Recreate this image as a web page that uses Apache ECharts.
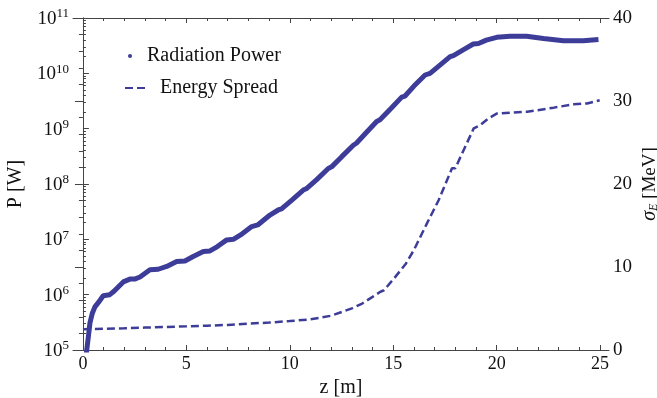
<!DOCTYPE html>
<html>
<head>
<meta charset="utf-8">
<script src="https://cdn.jsdelivr.net/npm/echarts@6/dist/echarts.min.js"></script>
<style>
html, body { margin: 0; padding: 0; background: #fff; }
#chart { width: 657px; height: 398px; }
</style>
</head>
<body>
<div id="chart"></div>
<script>
// radiation power P [W] along z [m]
const powerZ = [0.15, 0.25, 0.34, 0.45, 0.58, 0.75, 0.98, 1.3, 1.5, 1.95, 2.27, 2.5, 2.76, 3.24, 3.64, 4.05, 4.53, 4.93, 5.33, 5.82, 6.14, 6.5, 6.95, 7.27, 7.7, 8.16, 8.45, 9.04, 9.44, 9.6, 10.1, 10.65, 10.82, 11.3, 11.86, 12.02, 12.5, 13.07, 13.23, 13.7, 14.2, 14.36, 14.9, 15.41, 15.57, 16.0, 16.54, 16.78, 17.2, 17.75, 17.91, 18.4, 18.87, 19.12, 19.5, 20.0, 20.65, 21.45, 22.26, 23.23, 24.19, 24.92];
const powerW = [7.9e4, 1.58e5, 3.09e5, 4.57e5, 6.03e5, 7.24e5, 9.55e5, 1.0e6, 1.15e6, 1.70e6, 1.91e6, 1.91e6, 2.09e6, 2.82e6, 2.88e6, 3.24e6, 3.98e6, 4.07e6, 4.90e6, 6.03e6, 6.17e6, 7.41e6, 9.77e6, 1.0e7, 1.26e7, 1.70e7, 1.82e7, 2.75e7, 3.39e7, 3.55e7, 5.13e7, 7.76e7, 8.32e7, 1.20e8, 1.91e8, 2.04e8, 3.09e8, 5.01e8, 5.50e8, 8.51e8, 1.35e9, 1.45e9, 2.34e9, 3.72e9, 3.89e9, 5.89e9, 9.33e9, 1.0e10, 1.35e10, 2.0e10, 2.09e10, 2.69e10, 3.39e10, 3.47e10, 3.98e10, 4.47e10, 4.68e10, 4.68e10, 4.27e10, 3.89e10, 3.89e10, 4.07e10];

// energy spread sigma_E [MeV] along z [m]
const spreadZ = [0, 1, 2, 3, 4, 5, 6, 7, 8, 9, 10, 11, 12, 13, 13.5, 14.0, 14.38, 14.55, 15.0, 15.6, 16.0, 16.63, 17.2, 17.84, 18.0, 18.5, 18.89, 19.21, 19.6, 20.02, 20.66, 21.47, 22.76, 23.73, 24.37, 24.98];
const spreadMeV = [2.5, 2.55, 2.62, 2.7, 2.78, 2.85, 2.93, 3.02, 3.18, 3.3, 3.49, 3.69, 4.13, 5.02, 5.6, 6.4, 7.02, 7.2, 8.5, 10.36, 12.05, 15.26, 18.07, 21.89, 21.9, 24.6, 26.7, 27.1, 27.9, 28.5, 28.6, 28.7, 29.2, 29.6, 29.7, 30.1];

const zMajor = [0, 5, 10, 15, 20, 25];
const zMinor = [1, 2, 3, 4, 6, 7, 8, 9, 11, 12, 13, 14, 16, 17, 18, 19, 21, 22, 23, 24];
const pMajor = [1e5, 1e6, 1e7, 1e8, 1e9, 1e10, 1e11];

const pMinor = [];
for (let d = 5; d < 11; d++) {
    for (let m = 2; m <= 9; m++) pMinor.push(m * Math.pow(10, d));
}

const serif = '"Liberation Serif", "DejaVu Serif", serif';
const col = '#3d3d99';
const axisCol = '#444';

const chart = echarts.init(document.getElementById('chart'));

// hidden-label helper axes only carry extra ticks
const xBase = { type: 'value', min: -0.48, max: 25.43, splitLine: { show: false } };

chart.setOption({
    animation: false,
    grid: { left: 73, right: 48, top: 18, bottom: 48, outerBoundsMode: 'none', containLabel: false },
    legend: [{
        data: [{ name: 'Radiation Power', icon: 'circle' }],
        left: 128, top: 46, padding: 0,
        itemWidth: 4, itemHeight: 4,
        selectedMode: false,
        textStyle: { fontFamily: serif, fontSize: 20, color: '#111', padding: [0, 0, 0, 10] }
    }, {
        data: [{ name: 'Energy Spread', itemStyle: { opacity: 0 } }],
        left: 124, top: 78, padding: 0,
        itemWidth: 24, itemHeight: 10,
        selectedMode: false,
        textStyle: { fontFamily: serif, fontSize: 20, color: '#111', padding: [0, 0, 0, 6] }
    }],
    xAxis: [
        Object.assign({}, xBase, {
            position: 'bottom',
            name: 'z [m]', nameLocation: 'middle', nameGap: 23,
            nameTextStyle: { fontFamily: serif, fontSize: 20, color: '#111' },
            axisLine: { lineStyle: { color: axisCol, width: 1 } },
            axisTick: { inside: true, length: 5, customValues: zMajor, lineStyle: { color: axisCol } },
            axisLabel: { customValues: zMajor, fontFamily: serif, fontSize: 18, color: '#111', margin: 5 }
        }),
        Object.assign({}, xBase, {
            position: 'bottom',
            axisLine: { show: false },
            axisTick: { inside: true, length: 3, customValues: zMinor, lineStyle: { color: axisCol } },
            axisLabel: { show: false }
        }),
        Object.assign({}, xBase, {
            position: 'top',
            axisLine: { lineStyle: { color: axisCol, width: 1 } },
            axisTick: { inside: true, length: 5, customValues: zMajor, lineStyle: { color: axisCol } },
            axisLabel: { show: false }
        }),
        Object.assign({}, xBase, {
            position: 'top',
            axisLine: { show: false },
            axisTick: { inside: true, length: 3, customValues: zMinor, lineStyle: { color: axisCol } },
            axisLabel: { show: false }
        })
    ],
    yAxis: [{
        type: 'log', logBase: 10, min: 1e5, max: 1e11,
        position: 'left',
        name: 'P [W]', nameLocation: 'middle', nameRotate: 90, nameGap: 45,
        nameTextStyle: { fontFamily: serif, fontSize: 20, color: '#111' },
        splitLine: { show: false },
        axisLine: { show: true, lineStyle: { color: axisCol, width: 1 } },
        axisTick: { inside: true, length: 6, customValues: pMajor, lineStyle: { color: axisCol } },
        axisLabel: {
            customValues: pMajor, margin: 4,
            formatter: function (v) {
                return '{b|10}{e|' + Math.round(Math.log10(v)) + '}';
            },
            rich: {
                b: { fontFamily: serif, fontSize: 19, color: '#111', verticalAlign: 'bottom' },
                e: { fontFamily: serif, fontSize: 13, color: '#111', verticalAlign: 'top', padding: [0, 0, 8, 0] }
            }
        }
    }, {
        type: 'value', min: 0, max: 40, interval: 10,
        position: 'right',
        name: '{s|σ}{sub|E} [MeV]', nameLocation: 'middle', nameRotate: 90, nameGap: 31,
        nameMoveOverlap: false,
        nameTextStyle: {
            fontFamily: serif, fontSize: 19, color: '#111',
            rich: {
                s: { fontFamily: serif, fontSize: 20, fontStyle: 'italic', color: '#111' },
                sub: { fontFamily: serif, fontSize: 12, fontStyle: 'italic', color: '#111', verticalAlign: 'bottom' }
            }
        },
        splitLine: { show: false },
        axisLine: { show: true, lineStyle: { color: axisCol, width: 1 } },
        axisTick: { inside: true, length: 8, lineStyle: { color: axisCol } },
        minorTick: { show: true, splitNumber: 5, length: 4, lineStyle: { color: axisCol } },
        axisLabel: { fontFamily: serif, fontSize: 19, color: '#111', margin: 4 }
    }, {
        type: 'log', logBase: 10, min: 1e5, max: 1e11,
        position: 'left',
        splitLine: { show: false },
        axisLine: { show: false },
        axisTick: { inside: true, length: 3, customValues: pMinor, lineStyle: { color: axisCol } },
        axisLabel: { show: false }
    }],
    series: [{
        name: 'Radiation Power',
        type: 'line',
        xAxisIndex: 0, yAxisIndex: 0,
        data: powerZ.map((z, i) => [z, powerW[i]]),
        showSymbol: false,
        symbol: 'circle',
        clip: true,
        itemStyle: { color: col },
        lineStyle: { color: col, width: 5 }
    }, {
        name: 'Energy Spread',
        type: 'line',
        xAxisIndex: 0, yAxisIndex: 1,
        data: spreadZ.map((z, i) => [z, spreadMeV[i]]),
        symbol: 'none',
        itemStyle: { color: col },
        lineStyle: { color: col, width: 2.5, type: [8, 4] }
    }]
});
</script>
</body>
</html>
